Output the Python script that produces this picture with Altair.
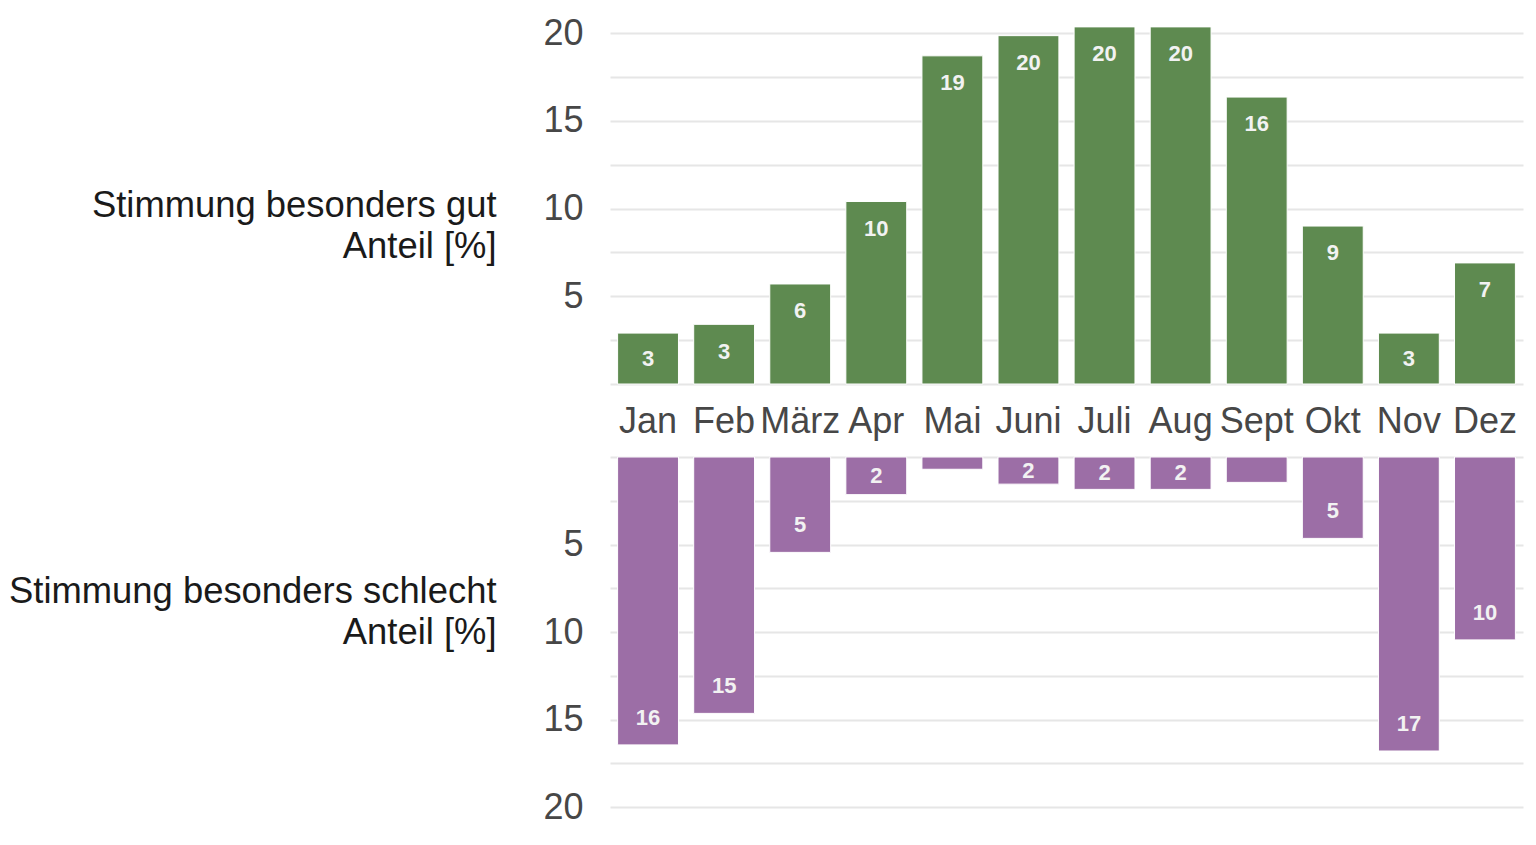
import altair as alt
import pandas as pd

# ---- data ----
months = ["Jan", "Feb", "März", "Apr", "Mai", "Juni", "Juli", "Aug", "Sept", "Okt", "Nov", "Dez"]
gut = [2.9, 3.4, 5.7, 10.4, 18.7, 19.85, 20.35, 20.35, 16.35, 9.0, 2.9, 6.9]
schlecht = [16.45, 14.65, 5.45, 2.15, 0.7, 1.55, 1.85, 1.85, 1.45, 4.65, 16.8, 10.45]
grid_values = [0, 2.5, 5, 7.5, 10, 12.5, 15, 17.5, 20]
title_gut = ["Stimmung besonders gut", "Anteil [%]"]
title_schlecht = ["Stimmung besonders schlecht", "Anteil [%]"]

df_gut = pd.DataFrame({"Monat": months, "Anteil": gut})
df_schlecht = pd.DataFrame({"Monat": months, "Anteil": schlecht})

FONT = "Liberation Sans"
GREEN = "#5e8a50"
PURPLE = "#9c6ea6"
LABEL_COLOR = "#474747"
TITLE_COLOR = "#1a1a1a"
GRID_COLOR = "#e6e6e6"
W = 913
H1 = 358
H2 = 350

label_expr = "datum.value > 0 && datum.value % 5 == 0 ? datum.label : ''"
xscale = alt.Scale(paddingInner=0.2, paddingOuter=0.1)


def y_axis(title, title_y):
    return alt.Axis(
        values=grid_values,
        labelExpr=label_expr,
        title=title,
        titleAngle=0,
        titleAlign="right",
        titleBaseline="alphabetic",
        titleX=-114,
        titleY=title_y,
        titleFont=FONT,
        titleFontSize=36.4,
        titleFontWeight="normal",
        titleColor=TITLE_COLOR,
        titleLineHeight=41,
        labelFont=FONT,
        labelFontSize=36,
        labelColor=LABEL_COLOR,
        labelPadding=27,
        ticks=False,
        domain=False,
        grid=True,
        gridColor=GRID_COLOR,
        gridWidth=2,
    )


label_calc = dict(
    pos="max(datum.Anteil / 2, datum.Anteil - 1.55)",
    lab="format(datum.Anteil, '.0f')",
)
text_style = dict(font=FONT, fontSize=22, fontWeight="bold", color="#f2f2f2",
                  baseline="middle", align="center")

# ---- top panel ----
x_top = alt.X(
    "Monat:N",
    sort=months,
    scale=xscale,
    axis=alt.Axis(
        orient="bottom",
        title=None,
        labelAngle=0,
        labelFont=FONT,
        labelFontSize=36,
        labelColor=LABEL_COLOR,
        labelPadding=20,
        labelOverlap=False,
        ticks=False,
        domain=False,
        grid=False,
    ),
)
y_top_scale = alt.Scale(domain=[0, 20.4], nice=False, zero=True)

top_bars = alt.Chart(df_gut).mark_bar(color=GREEN, stroke="white", strokeWidth=1).encode(
    x=x_top,
    y=alt.Y("Anteil:Q", scale=y_top_scale, axis=y_axis(title_gut, 190)),
)
top_text = (
    alt.Chart(df_gut)
    .transform_filter("datum.Anteil >= 1.5")
    .transform_calculate(**label_calc)
    .mark_text(**text_style)
    .encode(
        x=alt.X("Monat:N", sort=months, scale=xscale),
        y=alt.Y("pos:Q", scale=y_top_scale),
        text="lab:N",
    )
)
top = alt.layer(top_bars, top_text).properties(width=W, height=H1)

# ---- bottom panel ----
y_bot_scale = alt.Scale(domain=[0, 20], nice=False, zero=True, reverse=True)
bot_bars = alt.Chart(df_schlecht).mark_bar(color=PURPLE, stroke="white", strokeWidth=1).encode(
    x=alt.X("Monat:N", sort=months, scale=xscale, axis=None),
    y=alt.Y("Anteil:Q", scale=y_bot_scale, axis=y_axis(title_schlecht, 145)),
)
bot_text = (
    alt.Chart(df_schlecht)
    .transform_filter("datum.Anteil >= 1.5")
    .transform_calculate(**label_calc)
    .mark_text(**text_style)
    .encode(
        x=alt.X("Monat:N", sort=months, scale=xscale, axis=None),
        y=alt.Y("pos:Q", scale=y_bot_scale),
        text="lab:N",
    )
)
bottom = alt.layer(bot_bars, bot_text).properties(width=W, height=H2)

chart = (
    alt.vconcat(top, bottom, spacing=73, bounds="flush")
    .configure_view(strokeWidth=0)
    .properties(padding={"left": 0, "top": 7, "right": 5, "bottom": 5}, background="white")
)

chart.save("out.html", embed_options={"renderer": "svg", "actions": False})
